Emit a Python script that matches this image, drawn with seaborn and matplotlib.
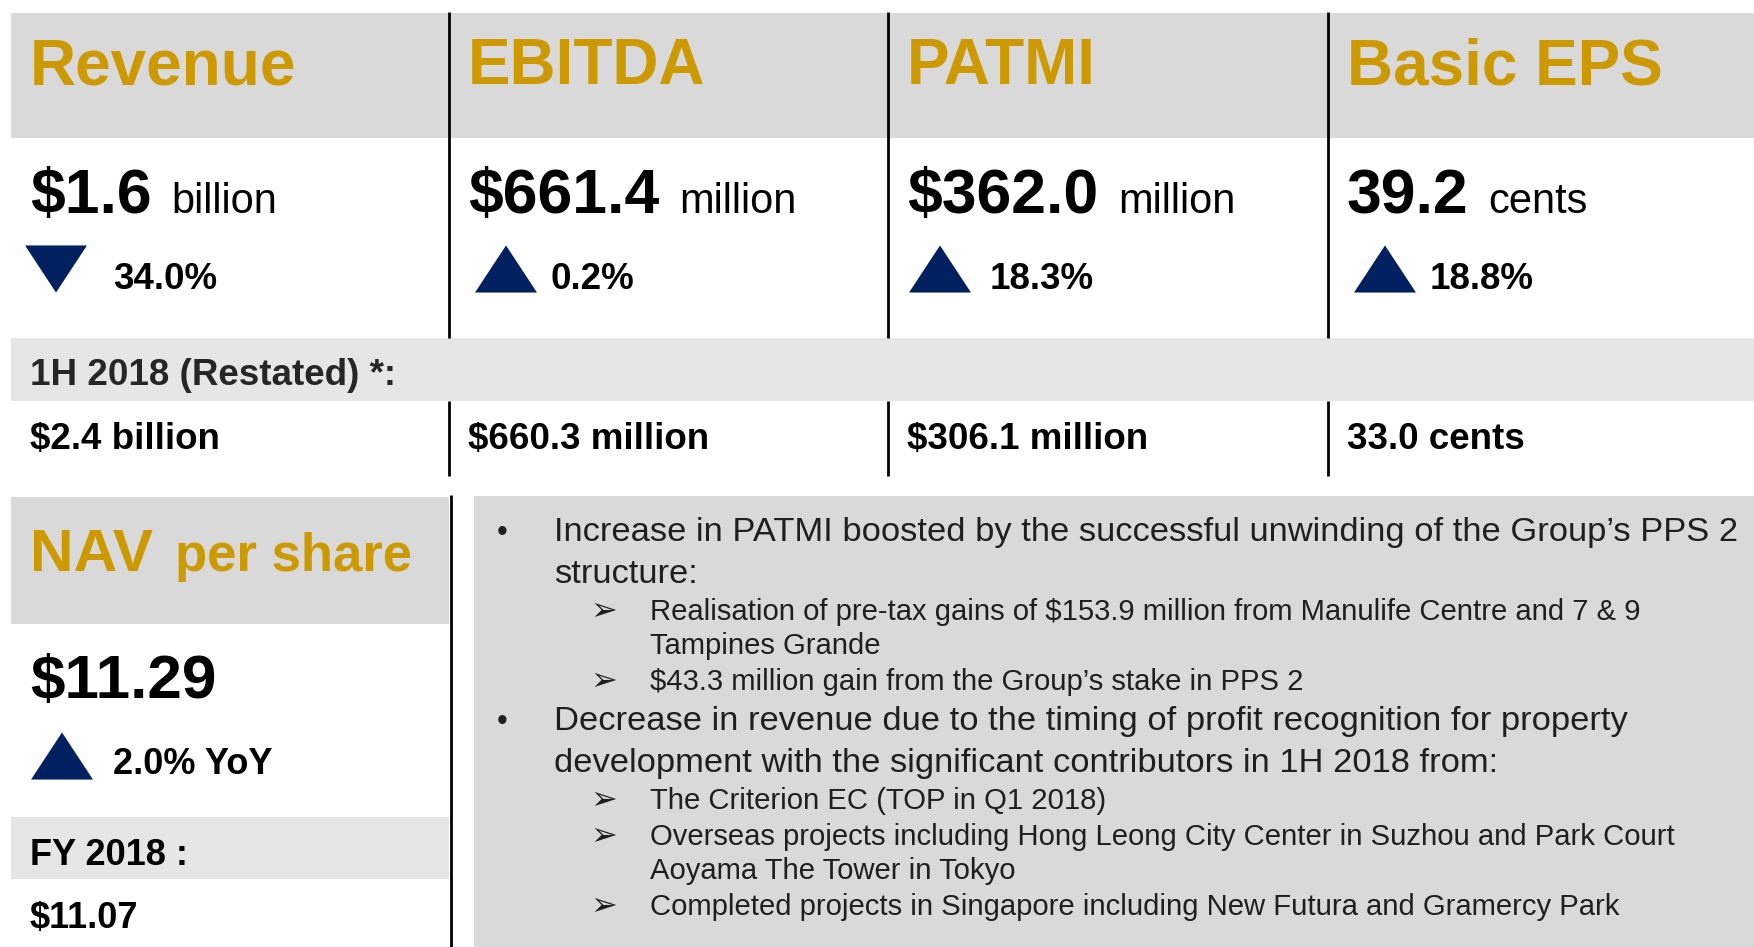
# kpi_slide.py
# Half-year results highlight slide: four KPI tiles, NAV tile and commentary box.

import matplotlib.pyplot as plt
import pandas as pd
import seaborn as sns

# ---------------------------------------------------------------------------
# Data
# ---------------------------------------------------------------------------
metrics = ["Revenue", "EBITDA", "PATMI", "Basic EPS"]
current_values = ["$1.6", "$661.4", "$362.0", "39.2"]
current_units = ["billion", "million", "million", "cents"]
change_pct = [-34.0, 0.2, 18.3, 18.8]
prior_label = "1H 2018 (Restated) *:"
prior_values = ["$2.4 billion", "$660.3 million", "$306.1 million", "33.0 cents"]

nav_title = ["NAV", "per share"]
nav_value = "$11.29"
nav_change_pct = 2.0
nav_prior_label = "FY 2018 :"
nav_prior_value = "$11.07"

bullets = [
    (1, ["Increase in PATMI boosted by the successful unwinding of the Group\u2019s PPS 2",
         "structure:"]),
    (2, ["Realisation of pre-tax gains of $153.9 million from Manulife Centre and 7 & 9",
         "Tampines Grande"]),
    (2, ["$43.3 million gain from the Group\u2019s stake in PPS 2"]),
    (1, ["Decrease in revenue due to the timing of profit recognition for property",
         "development with the significant contributors in 1H 2018 from:"]),
    (2, ["The Criterion EC (TOP in Q1 2018)"]),
    (2, ["Overseas projects including Hong Leong City Center in Suzhou and Park Court",
         "Aoyama The Tower in Tokyo"]),
    (2, ["Completed projects in Singapore including New Futura and Gramercy Park"]),
]

# ---------------------------------------------------------------------------
# Style / layout (pixel coordinates, y grows downwards)
# ---------------------------------------------------------------------------
GOLD = "#CC9A00"
NAVY = "#002060"
HEAD_GREY = "#D9D9D9"
BAND_GREY = "#E6E6E6"
TEXT = "#000000"
BODY = "#1F1F1F"

W, H = 1754, 947
col_left = [11, 449, 888, 1328]
tri_offset = [45, 57, 52, 57]
bullet_baselines = [541, 583, 620, 654, 690, 730, 772, 809, 845, 879, 915]

sns.set_theme(style="white")
plt.rcParams["font.family"] = ["Liberation Sans", "DejaVu Sans"]
plt.rcParams["text.parse_math"] = False

fig = plt.figure(figsize=(W / 100, H / 100), dpi=100)
ax = fig.add_axes([0, 0, 1, 1])

# Background panels
ax.axhspan(13, 138, xmin=11 / W, xmax=1, color=HEAD_GREY, lw=0, zorder=0)
ax.axhspan(338, 401, xmin=11 / W, xmax=1, color=BAND_GREY, lw=0, zorder=0)
ax.axhspan(497, 624, xmin=11 / W, xmax=449 / W, color=HEAD_GREY, lw=0, zorder=0)
ax.axhspan(817, 879, xmin=11 / W, xmax=449 / W, color=BAND_GREY, lw=0, zorder=0)
ax.axhspan(496, H, xmin=474 / W, xmax=1, color=HEAD_GREY, lw=0, zorder=0)

# Column dividers
for x in col_left[1:]:
    ax.vlines(x, 12, 338, color="black", lw=2, zorder=2)
    ax.vlines(x, 401, 476, color="black", lw=2, zorder=2)
ax.vlines(451, 495, H, color="black", lw=2, zorder=2)

# Up / down triangles drawn as scatter markers
tri = pd.DataFrame({
    "x": [left + off for left, off in zip(col_left, tri_offset)] + [62],
    "y": [269] * len(col_left) + [756],
    "direction": ["down" if p < 0 else "up" for p in change_pct + [nav_change_pct]],
})
up = [(-1, -0.76), (1, -0.76), (0, 0.76)]
down = [(-1, 0.76), (1, 0.76), (0, -0.76)]
sns.scatterplot(data=tri, x="x", y="y", style="direction",
                markers={"up": up, "down": down}, color=NAVY, s=1990,
                edgecolor="none", legend=False, ax=ax, zorder=3)

ax.set_xlim(0, W)
ax.set_ylim(H, 0)
ax.axis("off")

renderer = fig.canvas.get_renderer()

# ---------------------------------------------------------------------------
# KPI tiles
# ---------------------------------------------------------------------------
for left, name, val, unit, prior in zip(col_left, metrics, current_values,
                                        current_units, prior_values):
    x = left + 19
    ax.text(x, 84, name, fontsize=46, fontweight="bold", color=GOLD, va="baseline")
    t = ax.text(x, 213, val, fontsize=45, fontweight="bold", color=TEXT, va="baseline")
    bb = t.get_window_extent(renderer)
    ax.text(bb.x1 + 20, 213, unit, fontsize=30, color=TEXT, va="baseline")
    ax.text(x, 449, prior, fontsize=26.5, fontweight="bold", color=TEXT, va="baseline")

for left, pct in zip(col_left, change_pct):
    ax.text(left + 102, 289, f"{abs(pct):.1f}%", fontsize=26.5, fontweight="bold",
            color=TEXT, va="baseline")

ax.text(30, 385, prior_label, fontsize=26.5, fontweight="bold", color="#262626",
        va="baseline")

# NAV tile
t = ax.text(30, 571, nav_title[0], fontsize=43.5, fontweight="bold", color=GOLD,
            va="baseline")
bb = t.get_window_extent(renderer)
ax.text(bb.x1 + 22, 571, nav_title[1], fontsize=38, fontweight="bold", color=GOLD,
        va="baseline")
ax.text(30, 698, nav_value, fontsize=44.7, fontweight="bold", color=TEXT, va="baseline")
ax.text(113, 774, f"{nav_change_pct:.1f}% YoY", fontsize=26, fontweight="bold",
        color=TEXT, va="baseline")
ax.text(30, 865, nav_prior_label, fontsize=26, fontweight="bold", color=TEXT,
        va="baseline")
ax.text(30, 928, nav_prior_value, fontsize=26, fontweight="bold", color=TEXT,
        va="baseline")

# ---------------------------------------------------------------------------
# Commentary box
# ---------------------------------------------------------------------------
i = 0
for level, lines in bullets:
    if level == 1:
        mark, mark_x, mark_size, text_x, size = "\u2022", 497, 22, 554, 24.8
    else:
        mark, mark_x, mark_size, text_x, size = "\u27a2", 590, 23, 650, 21.1
    ax.text(mark_x, bullet_baselines[i], mark, fontsize=mark_size, color=BODY,
            va="baseline")
    for line in lines:
        ax.text(text_x, bullet_baselines[i], line, fontsize=size, color=BODY,
                va="baseline")
        i += 1

fig.savefig("out.png", dpi=100)
plt.close(fig)
